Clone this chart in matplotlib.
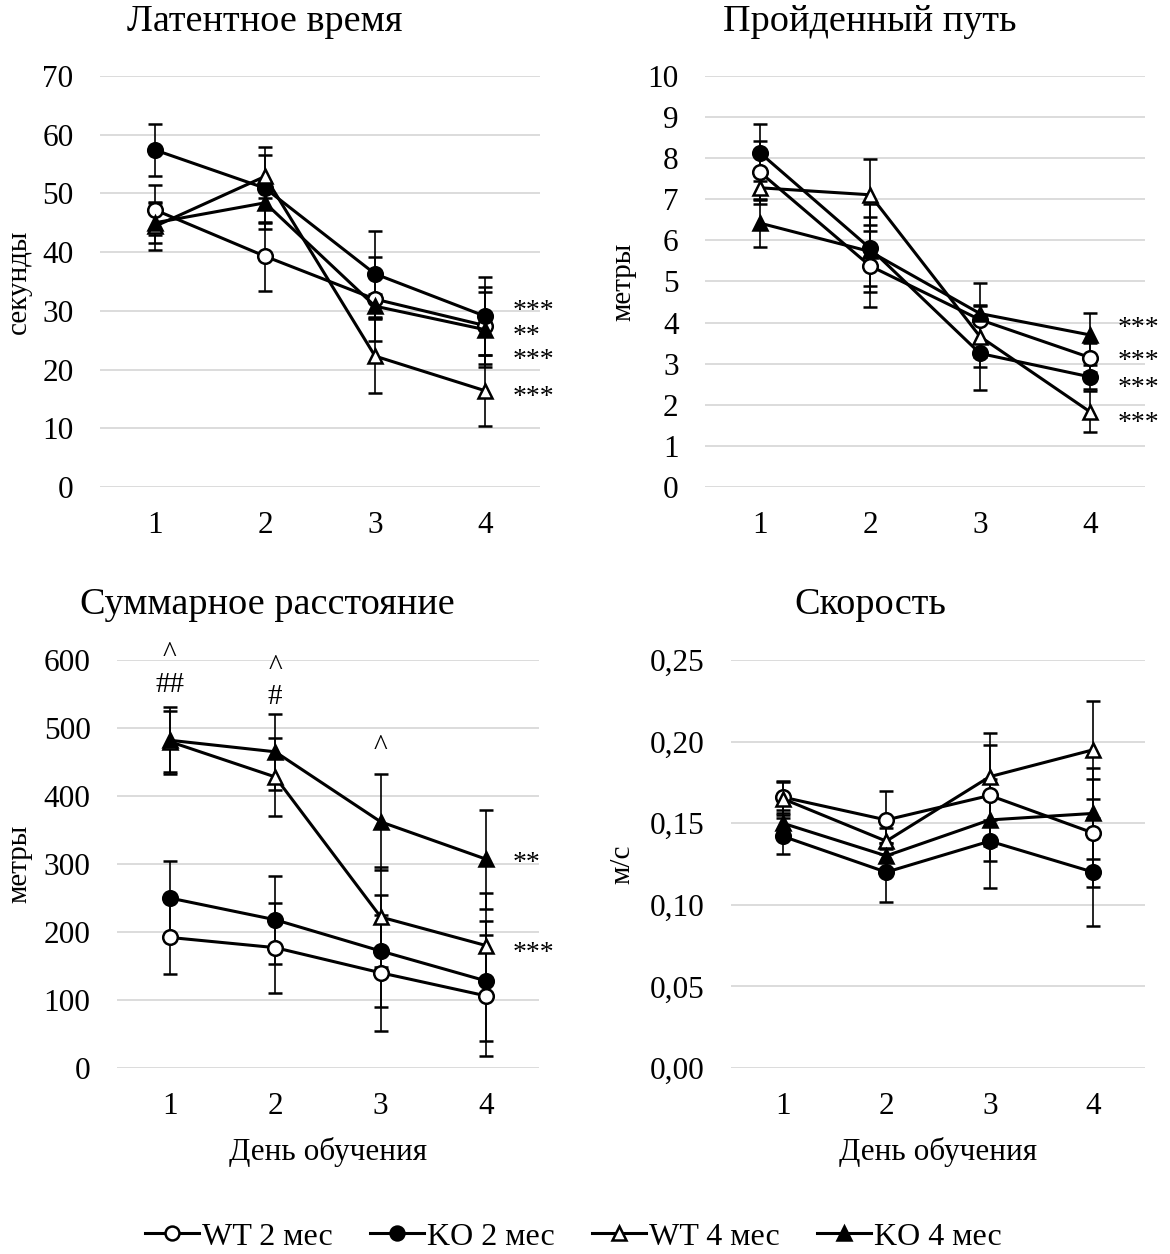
import numpy as np
import matplotlib
matplotlib.use("Agg")
import matplotlib.pyplot as plt
from matplotlib.transforms import offset_copy

plt.rcParams['font.family'] = ['Liberation Serif', 'DejaVu Serif']

# === Data ===
days = [1, 2, 3, 4]
groups = ['WT 2 мес', 'KO 2 мес', 'WT 4 мес', 'KO 4 мес']

latency_wt2 = [47.2, 39.3, 32.0, 27.5]
latency_ko2 = [57.4, 50.9, 36.3, 29.1]
latency_wt4 = [44.4, 52.9, 22.3, 16.4]
latency_ko4 = [45.0, 48.4, 30.8, 26.8]
latency_wt2_err = [4.2, 5.9, 7.2, 6.5]
latency_ko2_err = [4.4, 7.0, 7.3, 6.6]
latency_wt4_err = [4.0, 3.6, 6.3, 6.0]
latency_ko4_err = [3.5, 3.5, 2.0, 6.4]

path_wt2 = [7.66, 5.38, 4.07, 3.15]
path_ko2 = [8.13, 5.81, 3.25, 2.68]
path_wt4 = [7.28, 7.11, 3.66, 1.83]
path_ko4 = [6.42, 5.73, 4.22, 3.70]
path_wt2_err = [0.77, 1.00, 0.90, 0.35]
path_ko2_err = [0.69, 1.07, 0.88, 0.30]
path_wt4_err = [0.30, 0.87, 0.75, 0.50]
path_ko4_err = [0.58, 0.85, 0.20, 0.53]

total_wt2 = [192, 177, 140, 106]
total_ko2 = [250, 218, 172, 128]
total_wt4 = [480, 428, 222, 180]
total_ko4 = [482, 465, 362, 307]
total_wt2_err = [54, 66, 85, 89]
total_ko2_err = [55, 65, 82, 88]
total_wt4_err = [45, 58, 74, 78]
total_ko4_err = [49, 56, 71, 73]

speed_wt2 = [0.166, 0.152, 0.167, 0.144]
speed_ko2 = [0.142, 0.120, 0.139, 0.120]
speed_wt4 = [0.165, 0.139, 0.1785, 0.195]
speed_ko4 = [0.150, 0.130, 0.152, 0.156]
speed_wt2_err = [0.010, 0.018, 0.031, 0.033]
speed_ko2_err = [0.011, 0.018, 0.029, 0.033]
speed_wt4_err = [0.010, 0.008, 0.0265, 0.030]
speed_ko4_err = [0.008, 0.008, 0.025, 0.028]

# significance labels: (x, y, text)
latency_marks = [(4.25, 28.75, '***\n**'), (4.25, 22.5, '***'), (4.25, 16.3, '***')]
path_marks = [(4.25, 4.0, '***'), (4.25, 3.2, '***'), (4.25, 2.55, '***'), (4.25, 1.7, '***')]
total_marks = [(4.25, 310, '**'), (4.25, 177, '***')]
total_top_marks = [(1, 608, '^'), (1, 563, '##'), (2, 588, '^'), (2, 546, '#'), (3, 470, '^')]

styles = [
    dict(marker='o', mfc='white'),
    dict(marker='o', mfc='black'),
    dict(marker='^', mfc='white'),
    dict(marker='^', mfc='black'),
]

fig = plt.figure(figsize=(11.7, 12.54), dpi=100)
W, H = 1170, 1254


def make_ax(x0, x1, y0, y1):
    return fig.add_axes([x0 / W, 1 - y1 / H, (x1 - x0) / W, (y1 - y0) / H])


def draw_panel(ax, series, errs, ymax, ystep, ylabel, ylab_x, fmt=None, xlabel=None):
    for vals, err, st in zip(series, errs, styles):
        ax.errorbar(days, vals, yerr=err, color='black', lw=2.2, ms=10.5,
                    mec='black', mew=1.8, ecolor='black', elinewidth=1.2,
                    capsize=5, capthick=1.2, clip_on=False, **st)
    ax.set_xlim(0.5, 4.5)
    ax.set_ylim(0, ymax)
    ticks = np.arange(0, ymax + ystep / 2, ystep)
    ax.set_yticks(ticks)
    if fmt:
        ax.set_yticklabels([fmt(t) for t in ticks])
    ax.set_xticks(days)
    ax.grid(axis='y', color='#d9d9d9', lw=1.3)
    ax.set_axisbelow(True)
    for s in ax.spines.values():
        s.set_visible(False)
    ax.tick_params(length=0, labelsize=22.5)
    ax.tick_params(axis='y', pad=19)
    ax.tick_params(axis='x', pad=17)
    ax.set_ylabel(ylabel, fontsize=21)
    ax.yaxis.set_label_coords(ylab_x, 0.5)
    if xlabel:
        ax.set_xlabel(xlabel, fontsize=22.5, labelpad=12)


def star_text(ax, marks, size=20, ha='left'):
    tr = offset_copy(ax.transData, fig=fig, y=-6, units='dots')
    for x, y, t in marks:
        ax.text(x, y, t, fontsize=size, ha=ha, va='center', linespacing=1.0,
                transform=tr, clip_on=False)


ax1 = make_ax(100, 540, 76, 487)
draw_panel(ax1, [latency_wt2, latency_ko2, latency_wt4, latency_ko4],
           [latency_wt2_err, latency_ko2_err, latency_wt4_err, latency_ko4_err],
           70, 10, 'секунды', -0.155)
star_text(ax1, latency_marks)

ax2 = make_ax(705, 1145, 76, 487)
draw_panel(ax2, [path_wt2, path_ko2, path_wt4, path_ko4],
           [path_wt2_err, path_ko2_err, path_wt4_err, path_ko4_err],
           10, 1, 'метры', -0.155)
star_text(ax2, path_marks)

ax3 = make_ax(117, 539, 660, 1068)
draw_panel(ax3, [total_wt2, total_ko2, total_wt4, total_ko4],
           [total_wt2_err, total_ko2_err, total_wt4_err, total_ko4_err],
           600, 100, 'метры', -0.2, xlabel='День обучения')
star_text(ax3, total_marks)
for x, y, t in total_top_marks:
    ax3.text(x, y, t, fontsize=21, ha='center', va='center', clip_on=False)

ax4 = make_ax(731, 1145, 660, 1068)
draw_panel(ax4, [speed_wt2, speed_ko2, speed_wt4, speed_ko4],
           [speed_wt2_err, speed_ko2_err, speed_wt4_err, speed_ko4_err],
           0.25, 0.05, 'м/с', -0.23,
           fmt=lambda t: f'{t:.2f}'.replace('.', ','), xlabel='День обучения')

# panel titles sit over the whole panel (tick labels included), as in the reference
fig.text(265 / W, 1 - 22 / H, 'Латентное время', fontsize=27.5, ha='center', va='center')
fig.text(870 / W, 1 - 22 / H, 'Пройденный путь', fontsize=27.5, ha='center', va='center')
fig.text(267 / W, 1 - 605 / H, 'Суммарное расстояние', fontsize=27.5, ha='center', va='center')
fig.text(870 / W, 1 - 605 / H, 'Скорость', fontsize=27.5, ha='center', va='center')

handles = [plt.Line2D([], [], color='black', lw=2.2, ms=10, mec='black', mew=1.8, **st)
           for st in styles]
fig.legend(handles, groups, loc='center', bbox_to_anchor=(0.49, 1 - 1237 / H),
           ncol=4, frameon=False, fontsize=23, handlelength=1.7, handletextpad=0.1,
           columnspacing=1.15)

fig.savefig('out.png', dpi=100)
